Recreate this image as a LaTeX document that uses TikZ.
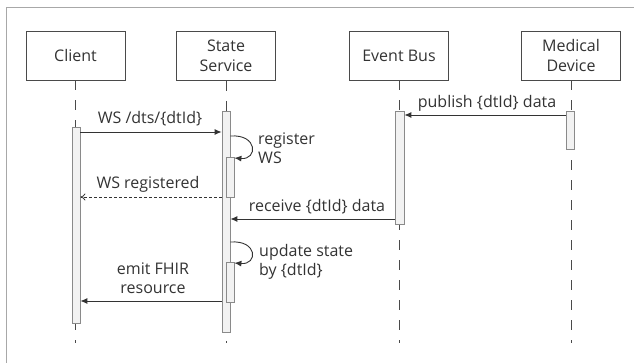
\documentclass[tikz,border=0pt]{standalone}
\usepackage{fontspec}
\setmainfont{Open Sans}
\usetikzlibrary{arrows.meta}
\definecolor{framegray}{HTML}{A8A8A8}
\definecolor{boxline}{HTML}{4A4A4A}
\definecolor{actline}{HTML}{8A8A8A}
\definecolor{actfill}{HTML}{F2F2F2}
\definecolor{ink}{HTML}{333333}
\tikzset{
  actor/.style={draw=boxline, line width=0.9pt, fill=white, minimum width=99pt, minimum height=49pt, align=center, inner sep=0pt, font=\fontsize{16}{20}\selectfont, text=ink},
  lifeline/.style={draw=boxline, line width=0.9pt, dash pattern=on 10pt off 10pt},
  activation/.style={draw=actline, line width=0.8pt, fill=actfill},
  msg/.style={draw=ink, line width=0.9pt, -{Latex[length=7pt,width=6pt]}},
  reply/.style={draw=ink, line width=0.8pt, dash pattern=on 3pt off 2pt, -{To[length=5pt,width=7pt]}},
  lbl/.style={font=\fontsize{16}{19.5}\selectfont, text=ink, inner sep=0pt, align=center},
  lbll/.style={lbl, align=left, anchor=west}
}
\begin{document}
\begin{tikzpicture}[x=1pt, y=-1pt]
\useasboundingbox (0,0) rectangle (634,363);
% outer frame, open at right and bottom edges
\draw[framegray, line width=0.9pt] (6,370) -- (6,7) -- (640,7);

% participants
\node[actor] (client) at (75.5,55.5) {Client};
\node[actor] (state) at (226,56) {State\\Service};
\node[actor] (bus) at (399,55.5) {Event Bus};
\node[actor] (dev) at (571,55.5) {Medical\\Device};

% lifeline ends
\coordinate (clientEnd) at (75.5,343);
\coordinate (stateEnd) at (226,343);
\coordinate (busEnd) at (399,343);
\coordinate (devEnd) at (571,343);
\draw[lifeline] (client.south) -- (clientEnd);
\draw[lifeline] (state.south) -- (stateEnd);
\draw[lifeline] (bus.south) -- (busEnd);
\draw[lifeline] (dev.south) -- (devEnd);

% activation bars
\node[activation, minimum width=8pt, minimum height=196pt, inner sep=0pt] (clientAct) at (76,225) {};
\node[activation, minimum width=8pt, minimum height=221pt, inner sep=0pt] (stateAct) at (226,221.5) {};
\node[activation, minimum width=8pt, minimum height=40pt, inner sep=0pt] (stateReg) at (230,177) {};
\node[activation, minimum width=8pt, minimum height=40pt, inner sep=0pt] (stateUpd) at (230,282) {};
\node[activation, minimum width=9pt, minimum height=113pt, inner sep=0pt] (busAct) at (399.5,167.5) {};
\node[activation, minimum width=8pt, minimum height=38pt, inner sep=0pt] (devAct) at (570,130) {};

% WS /dts/{dtId}
\draw[msg] (clientAct.east |- 0,132) -- (stateAct.west |- 0,132);
\node[lbl] (m1) at (150,119) {WS /dts/\{dtId\}};

% register WS (self call)
\coordinate (r1) at (stateAct.east |- 0,136);
\draw[msg] (r1) .. controls (258,134) and (258,160) .. (stateReg.east |- 0,158);
\node[lbll] (m2) at (258,148) {register\\WS};

% WS registered (reply)
\draw[reply] (stateAct.west |- 0,197) -- (clientAct.east |- 0,197);
\node[lbl] (m3) at (148,184) {WS registered};

% publish {dtId} data
\draw[msg] (devAct.west |- 0,115) -- (busAct.east |- 0,115);
\node[lbl] (m4) at (487,103) {publish \{dtId\} data};

% receive {dtId} data
\draw[msg] (busAct.west |- 0,219) -- (stateAct.east |- 0,219);
\node[lbl] (m5) at (317,207) {receive \{dtId\} data};

% update state by {dtId} (self call)
\coordinate (u1) at (stateAct.east |- 0,242);
\draw[msg] (u1) .. controls (258,240) and (258,265) .. (stateUpd.east |- 0,263);
\node[lbll] (m6) at (259,262) {update state\\by \{dtId\}};

% emit FHIR resource
\draw[msg] (stateAct.west |- 0,301) -- (clientAct.east |- 0,301);
\node[lbl] (m7) at (153,278) {emit FHIR\\resource};
\end{tikzpicture}
\end{document}
